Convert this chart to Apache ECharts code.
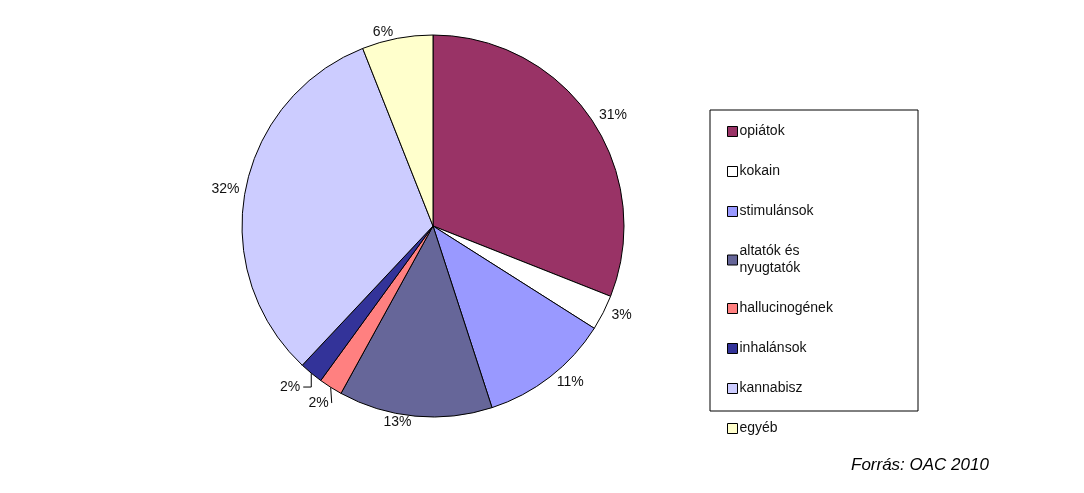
<!DOCTYPE html>
<html><head><meta charset="utf-8">
<script src="https://cdn.jsdelivr.net/npm/echarts@6/dist/echarts.min.js"></script>
<style>html,body{margin:0;background:#fff}#c{width:1084px;height:493px}</style>
</head><body><div id="c"></div>
<script>
const categories=['opiátok','kokain','stimulánsok','altatók és\nnyugtatók','hallucinogének','inhalánsok','kannabisz','egyéb'];
const values=[31,3,11,13,2,2,32,6];
const colors=['#993366','#ffffff','#9999ff','#666699','#ff8080','#333399','#ccccff','#ffffcc'];
const source='Forrás: OAC 2010';
const chart=echarts.init(document.getElementById('c'));
chart.setOption({
  animation:false,
  graphic:[
    {type:'rect',shape:{x:710,y:110,width:208,height:301},style:{fill:'none',stroke:'#000',lineWidth:1}},
    {type:'text',left:851,top:457,style:{text:source,font:'italic 17px "Liberation Sans", Arial',fill:'#000'}}
  ],
  legend:{orient:'vertical',left:722,top:118,itemWidth:10,itemHeight:10,itemGap:23,icon:'rect',
    itemStyle:{borderColor:'#000',borderWidth:1},
    textStyle:{fontFamily:'Liberation Sans',fontSize:14,color:'#111',lineHeight:17,padding:[0,0,0,-3]},
    data:categories},
  series:[{type:'pie',center:[433,226],radius:191,startAngle:90,clockwise:true,
    itemStyle:{borderColor:'#000',borderWidth:1},
    label:{formatter:p=>p.value+'%',fontFamily:'Liberation Sans',fontSize:14,color:'#111',distanceToLabelLine:3},
    labelLine:{show:false,length:6,length2:0},
    data:categories.map((n,i)=>{
      const d={name:n,value:values[i],itemStyle:{color:colors[i]}};
      if(i===4||i===5){d.labelLine={show:true,length:18,length2:12,lineStyle:{color:'#000'}};}
      return d;})
  }]
});
</script></body></html>
